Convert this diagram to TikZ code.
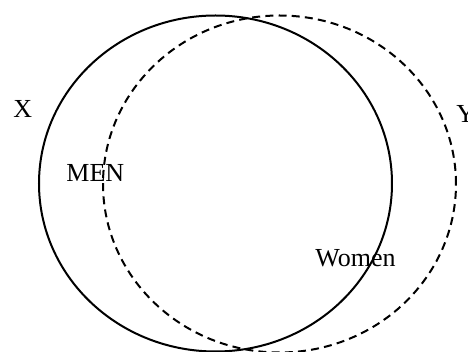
\documentclass[tikz,border=0pt]{standalone}
\usepackage{fontspec}
\setmainfont{Liberation Serif}
\begin{document}
\begin{tikzpicture}[x=0.5pt,y=-0.5pt,font=\fontsize{13}{15}\selectfont,
  lbl/.style={anchor=base west,inner sep=0pt},
  setx/.style={line width=1pt},
  sety/.style={line width=1pt,dash pattern=on 4pt off 2.6pt}]
\useasboundingbox (0,0) rectangle (468,352);
% the two sets
\draw[setx] (215.5,183.5) ellipse [x radius=88.25pt,y radius=84pt];
\draw[sety] (279.5,184) ellipse [x radius=88.25pt,y radius=84.25pt];
% labels
\node[lbl] (x) at (13,118) {X};
\node[lbl] (y) at (456,123) {Y};
\node[lbl] (men) at (66,182) {MEN};
\node[lbl] (women) at (315,267) {Women};
\end{tikzpicture}
\end{document}
